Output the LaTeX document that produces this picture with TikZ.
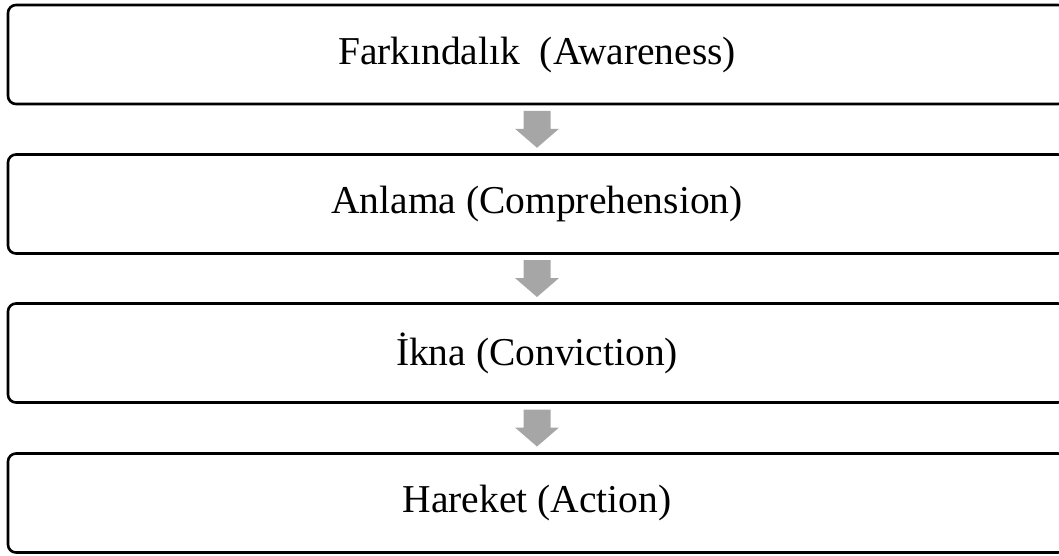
\documentclass[tikz,border=0pt]{standalone}
\usepackage{fontspec}
\setmainfont{Liberation Serif}
\usetikzlibrary{calc}
\tikzset{
  stagebox/.style={draw=black, line width=2.6pt, rounded corners=8pt, fill=white,
    minimum width=1058pt, minimum height=99pt, inner sep=0pt,
    font=\fontsize{39.5}{46}\selectfont},
  blockarrow/.style={fill=arrowgray, draw=none}
}
\definecolor{arrowgray}{HTML}{A6A6A6}
\newcommand\downarrowbetween[2]{%
  \fill[blockarrow] ($(#1.south)!0.5!(#2.north)$) ++(-13.5pt,18.5pt)
    -- ++(27pt,0) -- ++(0,-18pt) -- ++(8.5pt,0) -- ++(-22pt,-19pt)
    -- ++(-22pt,19pt) -- ++(8.5pt,0) -- cycle;}
\begin{document}
\begin{tikzpicture}[x=1pt,y=1pt]
  \useasboundingbox (0,0) rectangle (1059,-555);
  \clip (0,0) rectangle (1059,-555);
  \node[stagebox] (b1) at (537,-54.5) {Farkındalık\ \ (Awareness)};
  \node[stagebox] (b2) at (537,-204) {Anlama (Comprehension)};
  \node[stagebox] (b3) at (537,-353) {İkna (Conviction)};
  \node[stagebox] (b4) at (537,-503) {Hareket (Action)};
  \downarrowbetween{b1}{b2}
  \downarrowbetween{b2}{b3}
  \downarrowbetween{b3}{b4}
\end{tikzpicture}
\end{document}
